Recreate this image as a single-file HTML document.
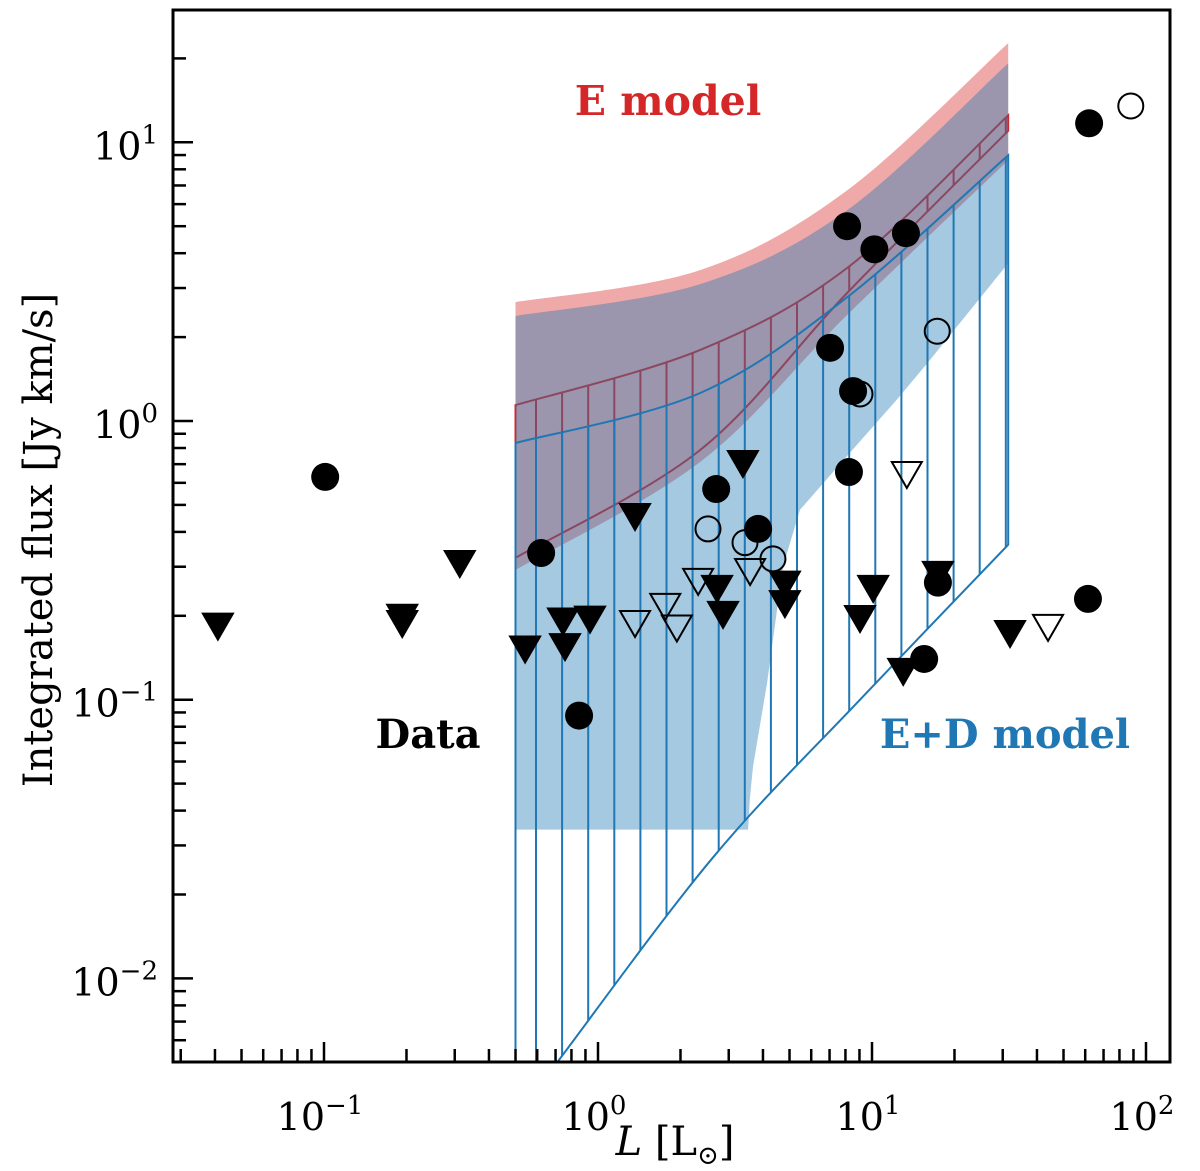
<!DOCTYPE html>
<html><head><meta charset="utf-8"><style>
html,body{margin:0;padding:0;background:#fff;}
svg{display:block;}
text{font-family:"DejaVu Serif","Liberation Serif",serif;}
</style></head><body>
<svg id="chart" width="1200" height="1171" viewBox="0 0 1200 1171" xmlns="http://www.w3.org/2000/svg">
<defs><clipPath id="plotclip"><rect x="173" y="10" width="997" height="1052"/></clipPath></defs>
<g id="plot" clip-path="url(#plotclip)"></g>
<g id="axes"></g>
<text x="668" y="115" font-size="41" font-weight="bold" fill="#d62728" text-anchor="middle">E model</text>
<text x="428" y="748" font-size="40" font-weight="bold" fill="#000" text-anchor="middle">Data</text>
<text x="1005" y="748" font-size="40" font-weight="bold" fill="#1f77b4" text-anchor="middle">E+D model</text>
<text x="675" y="1155" font-size="40" text-anchor="middle"><tspan font-style="italic">L</tspan> [L<tspan font-size="26" dy="9">⊙</tspan><tspan dy="-9">]</tspan></text>
<text transform="translate(52,540) rotate(-90)" font-size="40" text-anchor="middle">Integrated flux [Jy km/s]</text>
</svg>
<script>
// ---- data ----
const modelL = [0.5, 2.36, 8.11, 31.4];
const eTop = [2.67, 3.48, 6.72, 22.7];
const eBot = [0.292, 0.713, 2.40, 8.62];
const edTop = [2.38, 3.10, 5.70, 19.2];
const rHatchTop = [1.14, 1.80, 3.54, 12.5];
const rHatchBot = [0.323, 0.787, 2.88, 11.0];
const bHatchTop = [0.834, 1.26, 2.78, 8.98];
const edFillL = [0.5, 3.53, 3.58, 3.68, 4.14, 4.73, 5.46, 8.6, 12.3, 15.9, 31.4];
const edFillLow = [0.0342, 0.0342, 0.044, 0.0575, 0.115, 0.30, 0.48, 0.80, 1.19, 1.61, 3.68];
const bLowL = [0.5, 0.715, 2.63, 9.04, 31.4];
const bLow = [0.00318, 0.00505, 0.0272, 0.1, 0.36];

const detL = [0.101, 0.62, 0.853, 2.70, 3.84, 7.03, 8.11, 8.53, 8.24, 10.2, 13.3, 62, 15.5, 17.4, 61.4];
const detF = [0.63, 0.336, 0.0877, 0.570, 0.410, 1.83, 5.0, 1.28, 0.656, 4.13, 4.72, 11.7, 0.140, 0.263, 0.230];
const openL = [2.52, 3.44, 4.35, 9.04, 17.3, 88];
const openF = [0.41, 0.366, 0.320, 1.25, 2.10, 13.5];
const ulL = [0.041, 0.193, 0.193, 0.313, 0.542, 0.745, 0.758, 0.935, 1.365, 2.72, 2.86, 3.38, 4.81, 4.81, 10.1, 9.04, 17.4, 13.0, 31.9];
const ulF = [0.186, 0.190, 0.200, 0.312, 0.154, 0.194, 0.157, 0.197, 0.460, 0.254, 0.205, 0.713, 0.263, 0.224, 0.254, 0.198, 0.285, 0.128, 0.175];
const ulOpenL = [1.365, 1.76, 1.94, 2.32, 3.59, 13.4, 43.9];
const ulOpenF = [0.190, 0.219, 0.183, 0.269, 0.292, 0.651, 0.184];

const xTickVals = [0.1, 1, 10, 100];
const xTickExp = ["−1", "0", "1", "2"];
const yTickVals = [10, 1, 0.1, 0.01];
const yTickExp = ["1", "0", "−1", "−2"];

// ---- axes ----
const X = L => 598 + 274 * Math.log10(L);
const Y = F => 421 - 278.7 * Math.log10(F);
const NS = "http://www.w3.org/2000/svg";
const plot = document.getElementById('plot');
const axes = document.getElementById('axes');
function mk(tag, attrs, parent) {
  const e = document.createElementNS(NS, tag);
  for (const k in attrs) e.setAttribute(k, attrs[k]);
  parent.appendChild(e);
  return e;
}
function P(Ls, Fs) { return Ls.map((l, i) => [X(l), Y(Fs[i])]); }
function smooth(p, start) {
  let d = (start ? 'M' : 'L') + p[0][0].toFixed(1) + ',' + p[0][1].toFixed(1);
  for (let i = 0; i < p.length - 1; i++) {
    const p0 = p[Math.max(i - 1, 0)], p1 = p[i], p2 = p[i + 1], p3 = p[Math.min(i + 2, p.length - 1)];
    const c1 = [p1[0] + (p2[0] - p0[0]) / 6, p1[1] + (p2[1] - p0[1]) / 6];
    const c2 = [p2[0] - (p3[0] - p1[0]) / 6, p2[1] - (p3[1] - p1[1]) / 6];
    d += `C${c1[0].toFixed(1)},${c1[1].toFixed(1)} ${c2[0].toFixed(1)},${c2[1].toFixed(1)} ${p2[0].toFixed(1)},${p2[1].toFixed(1)}`;
  }
  return d;
}
function lin(p, start) {
  return p.map((q, i) => (i === 0 && start ? 'M' : 'L') + q[0].toFixed(1) + ',' + q[1].toFixed(1)).join('');
}
function bandPath(top, bot, botLinear) {
  return smooth(top, true) + (botLinear ? lin(bot.slice().reverse(), false) : smooth(bot.slice().reverse(), false)) + 'Z';
}
const PB = 1062;

const ePath = bandPath(P(modelL, eTop), P(modelL, eBot));
let e = mk('path', {d: ePath, fill: 'rgba(214,39,40,0.4)', stroke: 'none'}, plot);



const rPath = bandPath(P(modelL, rHatchTop), P(modelL, rHatchBot));
mk('path', {d: rPath}, mk('clipPath', {id: 'rclip'}, plot));
const rg = mk('g', {'clip-path': 'url(#rclip)'}, plot);


for (let x = 536; x < 1010; x += 26.1) mk('line', {x1: x, x2: x, y1: 0, y2: 1100, stroke: '#d62728', 'stroke-width': 2}, rg);
mk('path', {d: rPath, fill: 'none', stroke: '#d62728', 'stroke-width': 2}, plot);

const edPath = bandPath(P(modelL, edTop), P(edFillL, edFillLow), true);
e = mk('path', {d: edPath, fill: 'rgba(31,119,180,0.4)', stroke: 'none'}, plot);



const bTopPts = P(modelL, bHatchTop);
const bBotPts = P(bLowL, bLow);
const bPath = smooth(bTopPts, true) + smooth(bBotPts.slice().reverse(), false) + `L${X(0.5).toFixed(1)},${PB + 60}Z`;
mk('path', {d: bPath}, mk('clipPath', {id: 'bclip'}, plot));
const bg = mk('g', {'clip-path': 'url(#bclip)'}, plot);


for (let x = 536; x < 1010; x += 26.1) mk('line', {x1: x, x2: x, y1: 0, y2: 1200, stroke: '#1f77b4', 'stroke-width': 2}, bg);
mk('path', {d: bPath, fill: 'none', stroke: '#1f77b4', 'stroke-width': 2}, plot);

const TRI = 15;
function tri(L, F, fill, name) {
  const cx = X(L), cy = Y(F);
  const t = mk('polygon', {points: `${cx - TRI},${cy - 11} ${cx + TRI},${cy - 11} ${cx},${cy + 15}`, fill: fill, stroke: '#000', 'stroke-width': 2}, plot);
  
  
}
ulL.forEach((l, i) => tri(l, ulF[i], '#000', 'upper-limit-marker'));
ulOpenL.forEach((l, i) => tri(l, ulOpenF[i], 'none', 'open-upper-limit-marker'));
detL.forEach((l, i) => {
  const c = mk('circle', {cx: X(l), cy: Y(detF[i]), r: 14, fill: '#000'}, plot);
  
  
});
openL.forEach((l, i) => {
  const c = mk('circle', {cx: X(l), cy: Y(openF[i]), r: 12.5, fill: 'none', stroke: '#000', 'stroke-width': 2}, plot);
  
  
});

mk('rect', {x: 173, y: 10, width: 997, height: 1052, fill: 'none', stroke: '#000', 'stroke-width': 3}, axes);

for (let d = -2; d <= 2; d++) {
  for (let m = 1; m <= 9; m++) {
    const v = m * Math.pow(10, d), x = X(v);
    if (x < 174 || x > 1169) continue;
    mk('line', {x1: x, x2: x, y1: PB, y2: PB - (m === 1 ? 20 : 13), stroke: '#000', 'stroke-width': 2.5}, axes);
  }
}
xTickVals.forEach((v, i) => {
  const t = mk('text', {x: X(v) - 4, y: 1130, 'font-size': 38, 'text-anchor': 'middle'}, axes);
  
  
  t.innerHTML = `10<tspan font-size="26" dy="-16">${xTickExp[i]}</tspan>`;
});
for (let d = -3; d <= 1; d++) {
  for (let m = 1; m <= 9; m++) {
    const v = m * Math.pow(10, d), y = Y(v);
    if (y < 11 || y > 1061) continue;
    mk('line', {x1: 173, x2: 173 + (m === 1 ? 20 : 13), y1: y, y2: y, stroke: '#000', 'stroke-width': 2.5}, axes);
  }
}
yTickVals.forEach((v, i) => {
  const t = mk('text', {x: 158, y: Y(v) + 17, 'font-size': 38, 'text-anchor': 'end'}, axes);
  
  
  t.innerHTML = `10<tspan font-size="26" dy="-16">${yTickExp[i]}</tspan>`;
});
</script>
</body></html>
